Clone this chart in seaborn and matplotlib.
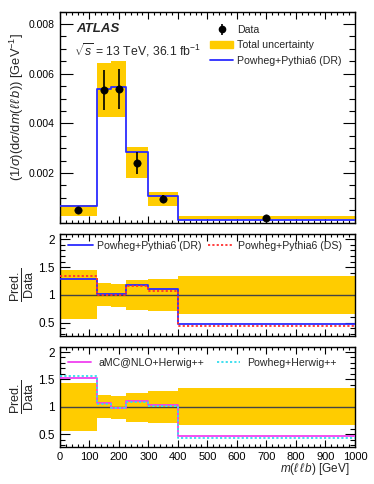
import numpy as np
import matplotlib
matplotlib.use("Agg")
import matplotlib.pyplot as plt
import seaborn as sns
from matplotlib.lines import Line2D
from matplotlib.patches import Patch
from matplotlib.ticker import MultipleLocator

# binning and measured values
edges = [0, 125, 175, 225, 300, 400, 1000]
centers = [62.5, 150, 200, 262.5, 350, 700]
data_xsec = [0.00050, 0.00534, 0.00537, 0.00241, 0.00095, 0.00020]
data_err = [0.00011, 0.00080, 0.00080, 0.00045, 0.00017, 0.00002]
band_lo = [0.00027, 0.00424, 0.00427, 0.00179, 0.00067, 0.00013]
band_hi = [0.00070, 0.00644, 0.00652, 0.00306, 0.00124, 0.00027]
mc_dr = [0.00068, 0.00537, 0.00545, 0.00286, 0.00107, 0.000095]

# ratio panels
unc_lo = [0.56, 0.79, 0.78, 0.73, 0.70, 0.66]
unc_hi = [1.44, 1.21, 1.20, 1.26, 1.29, 1.34]
ratio_dr = [1.29, 1.01, 1.01, 1.17, 1.10, 0.47]
ratio_ds = [1.34, 1.00, 1.00, 1.16, 1.07, 0.44]
ratio_amc = [1.53, 1.06, 0.97, 1.11, 1.03, 0.46]
ratio_phw = [1.56, 1.05, 0.98, 1.09, 1.02, 0.43]

YELLOW = "#FFCC00"
BLUE = "#2B2BFF"
RED = "#FF3030"
MAGENTA = "#F040F0"
CYAN = "#33DDEE"
DOT = (0, (1.2, 1.2))

sns.set_theme(style="ticks")
plt.rcParams["font.family"] = ["Liberation Sans", "DejaVu Sans"]
plt.rcParams["mathtext.fontset"] = "custom"
plt.rcParams["mathtext.rm"] = "Liberation Sans"
plt.rcParams["mathtext.it"] = "Liberation Sans:italic"
plt.rcParams["axes.linewidth"] = 1.0


def ext(v):
    # repeat last value so step-post covers the last bin
    return list(v) + [v[-1]]


def step(ax, vals, color, ls="-", lw=1.3, z=3):
    sns.lineplot(x=edges, y=ext(vals), ax=ax, color=color, linestyle=ls,
                 linewidth=lw, drawstyle="steps-post", zorder=z,
                 estimator=None, sort=False)


def style(ax, ymaj, ymin, ylen):
    ax.set_xlim(0, 1000)
    ax.xaxis.set_major_locator(MultipleLocator(100))
    ax.xaxis.set_minor_locator(MultipleLocator(20))
    ax.yaxis.set_major_locator(MultipleLocator(ymaj))
    ax.yaxis.set_minor_locator(MultipleLocator(ymin))
    ax.tick_params(which="both", direction="in", top=True, right=True,
                   colors="black", width=0.8)
    ax.tick_params(axis="x", which="major", length=5)
    ax.tick_params(axis="x", which="minor", length=2.5)
    ax.tick_params(axis="y", which="major", length=ylen)
    ax.tick_params(axis="y", which="minor", length=ylen / 2)
    for s in ax.spines.values():
        s.set_color("black")


fig = plt.figure(figsize=(3.74, 4.84), dpi=100)
ax1 = fig.add_axes([0.160, 0.540, 0.789, 0.436])
ax2 = fig.add_axes([0.160, 0.306, 0.789, 0.211])
ax3 = fig.add_axes([0.160, 0.076, 0.789, 0.208])

# ---- top panel
ax1.fill_between(edges, ext(band_lo), ext(band_hi), step="post",
                 color=YELLOW, lw=0, zorder=1)
step(ax1, mc_dr, BLUE)
ax1.errorbar(centers, data_xsec, yerr=data_err, fmt="none",
             ecolor="black", elinewidth=1.2, zorder=4)
sns.scatterplot(x=centers, y=data_xsec, ax=ax1, color="black", s=28,
                edgecolor="black", zorder=5)
ax1.set_ylim(0, 0.0085)
style(ax1, 0.002, 0.0005, 9)
ax1.set_xticklabels([])
ax1.set_yticks([0.002, 0.004, 0.006, 0.008])
ax1.set_yticklabels(["0.002", "0.004", "0.006", "0.008"], fontsize=7.5)
ax1.set_ylabel(r"$(1/\sigma)(\mathrm{d}\sigma/\mathrm{d}m(\ell\,\ell\,b))$ [GeV$^{-1}$]",
               fontsize=9.3)
ax1.yaxis.set_label_coords(-0.115, 0.55)
ax1.text(0.055, 0.918, "ATLAS", transform=ax1.transAxes, fontsize=9.5,
         fontweight="bold", fontstyle="italic", va="center")
ax1.text(0.048, 0.818, r"$\sqrt{s}$ = 13 TeV, 36.1 fb$^{-1}$",
         transform=ax1.transAxes, fontsize=8.8, va="center")
data_handle = ax1.errorbar([], [], yerr=[], fmt="o", color="black",
                           markersize=4.5, elinewidth=1.2)
handles = [data_handle, Patch(color=YELLOW),
           Line2D([], [], color=BLUE, lw=1.3)]
ax1.legend(handles, ["Data", "Total uncertainty", "Powheg+Pythia6 (DR)"],
           loc="upper left", bbox_to_anchor=(0.496, 0.956), borderaxespad=0,
           frameon=False, fontsize=7.6, handlelength=2.1, handletextpad=0.45,
           labelspacing=0.5)

# ---- ratio panels
for ax in (ax2, ax3):
    ax.fill_between(edges, ext(unc_lo), ext(unc_hi), step="post",
                    color=YELLOW, lw=0, zorder=1)
    ax.axhline(1, color="#444444", lw=1.0, zorder=2)
    ax.set_ylim(0.26, 2.1)
    style(ax, 0.5, 0.1, 7)
    ax.set_yticks([0.5, 1, 1.5, 2])
    ax.set_yticklabels(["0.5", "1", "1.5", "2"], fontsize=8.5)
    ax.set_ylabel(r"$\frac{\mathrm{Pred.}}{\mathrm{Data}}$", fontsize=13)
    ax.yaxis.set_label_coords(-0.08, 0.5)

step(ax2, ratio_dr, BLUE)
step(ax2, ratio_ds, RED, ls=DOT, z=4)
ax2.set_xticklabels([])
ax2.legend([Line2D([], [], color=BLUE, lw=1.3),
            Line2D([], [], color=RED, lw=1.3, ls=DOT)],
           ["Powheg+Pythia6 (DR)", "Powheg+Pythia6 (DS)"],
           loc="center left", bbox_to_anchor=(0.012, 0.88), borderaxespad=0,
           ncol=2, frameon=False, fontsize=7.6, handlelength=2.45,
           handletextpad=0.38, columnspacing=0.55)

step(ax3, ratio_amc, MAGENTA)
step(ax3, ratio_phw, CYAN, ls=DOT, z=4)
ax3.set_xticks(range(0, 1001, 100))
ax3.set_xticklabels([str(v) for v in range(0, 1001, 100)], fontsize=8)
ax3.set_xlabel(r"$m(\ell\,\ell\,b)$ [GeV]", fontsize=8.5)
ax3.xaxis.set_label_coords(0.98, -0.14)
ax3.xaxis.label.set_ha("right")
ax3.legend([Line2D([], [], color=MAGENTA, lw=1.3),
            Line2D([], [], color=CYAN, lw=1.3, ls=DOT)],
           ["aMC@NLO+Herwig++", "Powheg+Herwig++"],
           loc="center left", bbox_to_anchor=(0.012, 0.84), borderaxespad=0,
           ncol=2, frameon=False, fontsize=7.6, handlelength=2.2,
           handletextpad=0.7, columnspacing=1.2)

fig.savefig("out.png", dpi=100)
